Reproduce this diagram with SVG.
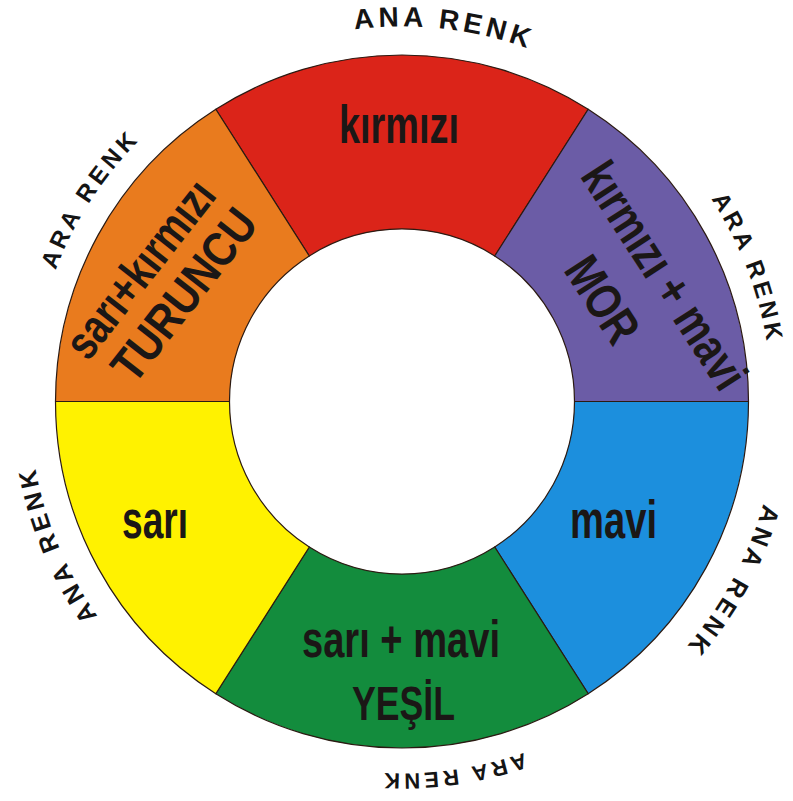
<svg xmlns="http://www.w3.org/2000/svg" width="793" height="801" viewBox="0 0 793 801">
<style>
.seg{stroke:#2b1a12;stroke-width:1.2;stroke-linejoin:round}
.in{font-family:"Liberation Sans",Arial,sans-serif;font-weight:bold;fill:#1b1716}
.out{font-family:"Liberation Sans",Arial,sans-serif;font-weight:bold;fill:#141414}
</style>
<defs>
<path id="pTop" d="M194.5,88.8 A375,375 0 0 1 673.5,143.3"/>
<path id="pUR" d="M580.9,77.9 A370,370 0 0 1 751.3,522"/>
<path id="pR" d="M769.9,326.5 A376,376 0 0 1 539.3,751.3"/>
<path id="pB" d="M677.9,650.4 A372,372 0 0 1 204.4,717"/>
<path id="pL" d="M229.7,731.5 A372,372 0 0 1 46.7,289.6"/>
<path id="pUL" d="M34.3,446.6 A370,370 0 0 1 293.3,47.7"/>
</defs>
<rect width="793" height="801" fill="#ffffff"/>
<g id="kirmizi">
<path class="seg" fill="#db2419" d="M215.8,109.3 A346.5,346.5 0 0 1 588.2,109.3 L494.7,256 A172.5,172.5 0 0 0 309.3,256 Z"/>
<text class="in" x="399" y="143" font-size="53" text-anchor="middle" textLength="120" lengthAdjust="spacingAndGlyphs">kırmızı</text>
</g>
<g id="mor">
<path class="seg" fill="#6b5ca6" d="M588.2,109.3 A346.5,346.5 0 0 1 748.5,401.5 L574.5,401.5 A172.5,172.5 0 0 0 494.7,256 Z"/>
<text class="in" transform="translate(650,285) rotate(57)" font-size="50" text-anchor="middle" textLength="260" lengthAdjust="spacingAndGlyphs">kırmızı + mavi</text>
<text class="in" transform="translate(588,309) rotate(57)" font-size="50" text-anchor="middle" textLength="93" lengthAdjust="spacingAndGlyphs">MOR</text>
</g>
<g id="mavi">
<path class="seg" fill="#1c8fdd" d="M748.5,401.5 A346.5,346.5 0 0 1 588.2,693.7 L494.7,547 A172.5,172.5 0 0 0 574.5,401.5 Z"/>
<text class="in" x="613.5" y="538" font-size="53" text-anchor="middle" textLength="87" lengthAdjust="spacingAndGlyphs">mavi</text>
</g>
<g id="yesil">
<path class="seg" fill="#138c3d" d="M588.2,693.7 A346.5,346.5 0 0 1 215.8,693.7 L309.3,547 A172.5,172.5 0 0 0 494.7,547 Z"/>
<text class="in" x="401" y="657" font-size="52" text-anchor="middle" textLength="198" lengthAdjust="spacingAndGlyphs">sarı + mavi</text>
<text class="in" x="403.5" y="720" font-size="49" text-anchor="middle" textLength="103" lengthAdjust="spacingAndGlyphs">YEŞİL</text>
</g>
<g id="sari">
<path class="seg" fill="#fff200" d="M215.8,693.7 A346.5,346.5 0 0 1 55.5,401.5 L229.5,401.5 A172.5,172.5 0 0 0 309.3,547 Z"/>
<text class="in" x="155" y="538" font-size="53" text-anchor="middle" textLength="66" lengthAdjust="spacingAndGlyphs">sarı</text>
</g>
<g id="turuncu">
<path class="seg" fill="#e97b1e" d="M55.5,401.5 A346.5,346.5 0 0 1 215.8,109.3 L309.3,256 A172.5,172.5 0 0 0 229.5,401.5 Z"/>
<text class="in" transform="translate(153,279) rotate(-52)" font-size="48" text-anchor="middle" textLength="211" lengthAdjust="spacingAndGlyphs">sarı+kırmızı</text>
<text class="in" transform="translate(197,305) rotate(-52)" font-size="48" text-anchor="middle" textLength="204" lengthAdjust="spacingAndGlyphs">TURUNCU</text>
</g>
<g id="labels">
<text class="out" font-size="28" letter-spacing="4" text-anchor="middle"><textPath href="#pTop" startOffset="50%">ANA RENK</textPath></text>
<text class="out" font-size="24" letter-spacing="4" text-anchor="middle"><textPath href="#pUR" startOffset="50%">ARA RENK</textPath></text>
<text class="out" font-size="25" letter-spacing="4.5" text-anchor="middle"><textPath href="#pR" startOffset="50%">ANA RENK</textPath></text>
<text class="out" font-size="22" letter-spacing="3.8" text-anchor="middle"><textPath href="#pB" startOffset="50%">ARA RENK</textPath></text>
<text class="out" font-size="25" letter-spacing="4.3" text-anchor="middle"><textPath href="#pL" startOffset="50%">ANA RENK</textPath></text>
<text class="out" font-size="24" letter-spacing="4" text-anchor="middle"><textPath href="#pUL" startOffset="50%">ARA RENK</textPath></text>
</g>
</svg>
